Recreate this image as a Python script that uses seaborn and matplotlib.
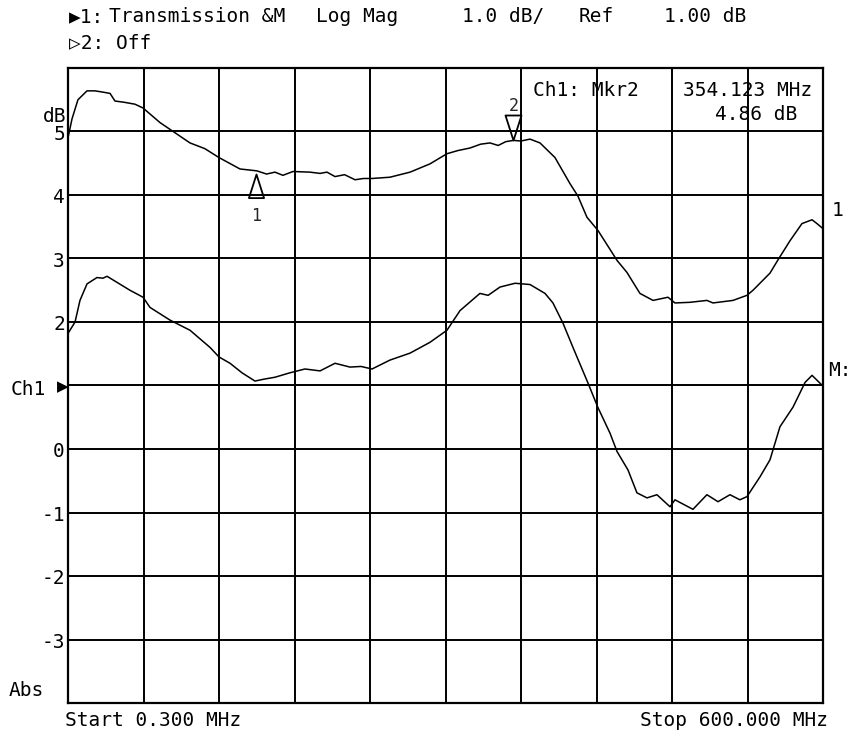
import numpy as np
import pandas as pd
import matplotlib
matplotlib.use("Agg")
import matplotlib.pyplot as plt
import seaborn as sns
from matplotlib.path import Path
from matplotlib.transforms import blended_transform_factory

# ---------------- data ----------------
trace1_freq = [0.3, 3.5, 8.2, 15.4, 21.7, 28.1, 33.7, 37.6, 45.0, 53.5, 59.9, 73.4, 85.3,
               97.2, 109.0, 120.2, 136.9, 150.4, 158.0, 164.7, 171.0, 179.0, 192.5, 200.5,
               206.0, 212.4, 220.0, 228.3, 235.0, 241.8, 256.0, 272.0, 287.8, 301.3, 310.0,
               319.6, 328.0, 335.5, 342.0, 348.0, 354.1, 360.0, 367.3, 375.2, 387.1, 399.0,
               405.4, 412.5, 421.3, 436.4, 444.3, 454.6, 465.0, 476.9, 482.4, 494.3, 507.8,
               512.6, 528.5, 539.6, 544.4, 557.9, 564.3, 573.8, 583.3, 591.3, 595.2, 600.0]
trace1_db = [4.90, 5.20, 5.50, 5.64, 5.64, 5.62, 5.60, 5.48, 5.46, 5.43, 5.37, 5.14, 4.98,
             4.82, 4.73, 4.59, 4.41, 4.38, 4.33, 4.36, 4.31, 4.37, 4.36, 4.34,
             4.36, 4.29, 4.32, 4.24, 4.26, 4.26, 4.28, 4.36, 4.49, 4.65, 4.70,
             4.74, 4.80, 4.82, 4.78, 4.84, 4.86, 4.85, 4.88, 4.82, 4.59, 4.18,
             3.98, 3.65, 3.44, 2.97, 2.78, 2.45, 2.34, 2.39, 2.30, 2.31, 2.34,
             2.30, 2.34, 2.42, 2.50, 2.77, 2.98, 3.28, 3.55, 3.61, 3.55, 3.47]

trace2_freq = [0.3, 5.9, 9.8, 15.4, 23.3, 28.1, 31.3, 49.5, 59.9, 65.4, 81.3, 97.2, 113.1,
               120.2, 129.0, 138.5, 148.8, 156.0, 164.7, 176.6, 188.5, 200.5, 212.4, 224.3,
               233.0, 241.8, 256.0, 272.0, 287.8, 301.3, 311.7, 327.5, 334.0, 343.4, 355.4,
               367.3, 379.2, 385.5, 393.5, 401.4, 413.3, 421.3, 430.8, 436.4, 445.1, 452.2,
               460.2, 468.1, 478.5, 482.4, 496.7, 507.8, 516.6, 526.1, 534.0, 539.6, 549.9,
               557.9, 565.8, 576.2, 585.8, 591.3, 600.0]
trace2_db = [1.82, 2.00, 2.34, 2.60, 2.70, 2.69, 2.72, 2.50, 2.39, 2.23, 2.03, 1.87, 1.60,
             1.45, 1.35, 1.20, 1.07, 1.10, 1.13, 1.20, 1.26, 1.23, 1.35, 1.29,
             1.30, 1.26, 1.40, 1.51, 1.68, 1.87, 2.18, 2.45, 2.42, 2.55, 2.61,
             2.59, 2.45, 2.30, 1.98, 1.60, 1.04, 0.65, 0.25, -0.04, -0.33, -0.69,
             -0.77, -0.72, -0.91, -0.80, -0.95, -0.72, -0.83, -0.72, -0.80, -0.75, -0.44,
             -0.17, 0.35, 0.66, 1.05, 1.16, 0.99]

y_tick_values = [5, 4, 3, 2, 0, -1, -2, -3]
y_tick_labels = ["5", "4", "3", "2", "0", "-1", "-2", "-3"]

marker1_freq, marker1_db = 150.0, 4.33
marker2_freq, marker2_db = 354.123, 4.86

start_mhz, stop_mhz = 0.3, 600.0
y_bottom, y_top = -4.0, 6.0

# ---------------- figure ----------------
sns.set_theme(style="white")
FAM = ["DejaVu Sans Mono", "DejaVu Sans"]
plt.rcParams["font.family"] = FAM

W, H = 855, 740
fig = plt.figure(figsize=(W / 100, H / 100), dpi=100)
fig.patch.set_facecolor("white")


def fx(px):
    return px / W


def fy(py):
    return 1 - py / H


left, right, top, bottom = 68, 823, 68, 703
ax = fig.add_axes([fx(left), fy(bottom), (right - left) / W, (bottom - top) / H])
ax.set_facecolor("white")

df1 = pd.DataFrame({"freq": trace1_freq, "db": trace1_db})
df2 = pd.DataFrame({"freq": trace2_freq, "db": trace2_db})
sns.lineplot(data=df1, x="freq", y="db", ax=ax, color="black", lw=1.1, sort=False)
sns.lineplot(data=df2, x="freq", y="db", ax=ax, color="black", lw=1.1, sort=False)

ax.set_xlim(start_mhz, stop_mhz)
ax.set_ylim(y_bottom, y_top)
ax.set_xticks(np.linspace(start_mhz, stop_mhz, 11))
ax.set_yticks(np.arange(y_bottom, y_top + 0.5, 1.0))
ax.grid(True, color="black", lw=1.4)
ax.tick_params(left=False, bottom=False, labelleft=False, labelbottom=False)
ax.set_xlabel("")
ax.set_ylabel("")
for s in ax.spines.values():
    s.set_visible(True)
    s.set_color("black")
    s.set_linewidth(1.6)

# markers (tall narrow triangles)
up_tri = Path([(0, 0), (-0.32, -1), (0.32, -1), (0, 0)],
              [Path.MOVETO, Path.LINETO, Path.LINETO, Path.CLOSEPOLY])
down_tri = Path([(0, 0), (-0.32, 1), (0.32, 1), (0, 0)],
                [Path.MOVETO, Path.LINETO, Path.LINETO, Path.CLOSEPOLY])
ax.plot([marker1_freq], [marker1_db], marker=up_tri, markersize=34, mfc="none",
        mec="black", mew=1.3, ls="none", clip_on=False)
ax.plot([marker2_freq], [marker2_db], marker=down_tri, markersize=36, mfc="none",
        mec="black", mew=1.3, ls="none", clip_on=False)

fs = 14
txt = dict(color="black", fontsize=fs, va="center", family=FAM)

# header
fig.text(fx(69), fy(17), "▶1:", ha="left", **txt)
fig.text(fx(109), fy(17), "Transmission &M", ha="left", **txt)
fig.text(fx(316), fy(17), "Log Mag", ha="left", **txt)
fig.text(fx(462), fy(17), "1.0 dB/", ha="left", **txt)
fig.text(fx(579), fy(17), "Ref", ha="left", **txt)
fig.text(fx(664), fy(17), "1.00 dB", ha="left", **txt)
fig.text(fx(69), fy(43), "▷2: Off", ha="left", **txt)

# left labels
fig.text(fx(66), fy(116), "dB", ha="right", **txt)
trans = blended_transform_factory(fig.transFigure, ax.transData)
for v, lab in zip(y_tick_values, y_tick_labels):
    ax.text(fx(65), v - 0.04, lab, transform=trans, ha="right", **txt)
fig.text(fx(11), fy(390), "Ch1", ha="left", **txt)
fig.text(fx(63), fy(387), "▶", ha="center", color="black", fontsize=11, va="center",
         family=["DejaVu Sans"])
fig.text(fx(9), fy(690), "Abs", ha="left", **txt)

# bottom labels
fig.text(fx(65), fy(721), "Start 0.300 MHz", ha="left", **txt)
fig.text(fx(828), fy(721), "Stop 600.000 MHz", ha="right", **txt)

# right labels
fig.text(fx(832), fy(210), "1", ha="left", **txt)
fig.text(fx(828), fy(370), "M:", ha="left", **txt)

# marker readout
fig.text(fx(533), fy(91), "Ch1: Mkr2", ha="left", **txt)
fig.text(fx(812), fy(91), "354.123 MHz", ha="right", **txt)
fig.text(fx(797), fy(115), "4.86 dB", ha="right", **txt)

# marker numbers
ax.annotate("1", (marker1_freq, marker1_db), xytext=(0, -30), textcoords="offset points",
            ha="center", va="center", fontsize=12, family=FAM)
ax.annotate("2", (marker2_freq, marker2_db), xytext=(0, 25), textcoords="offset points",
            ha="center", va="center", fontsize=12, family=FAM)

fig.savefig("out.png", dpi=100, facecolor="white")
